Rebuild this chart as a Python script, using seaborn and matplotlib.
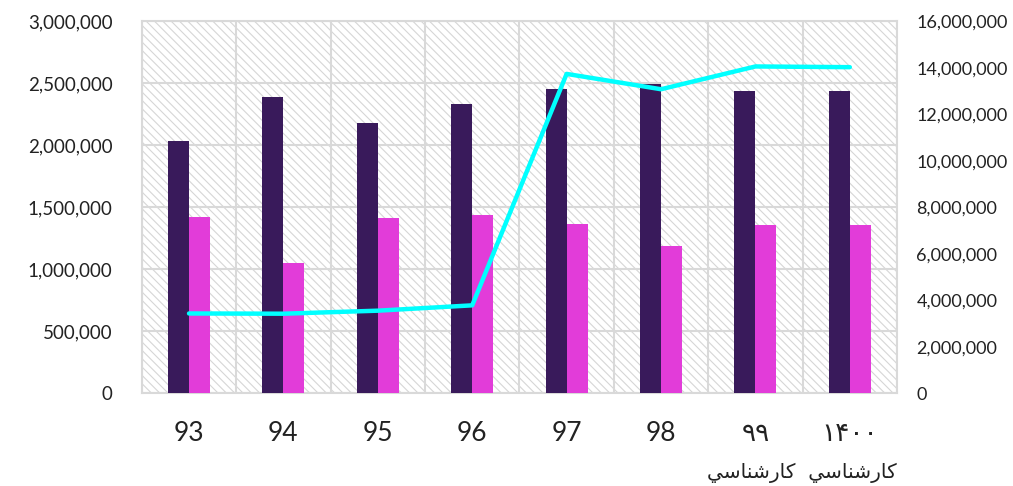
# نمودار میله‌ای دو سری همراه با خط روی محور دوم
import numpy as np
import pandas as pd
import seaborn as sns
import matplotlib.pyplot as plt
from matplotlib.patches import Rectangle
from matplotlib.ticker import FuncFormatter, MultipleLocator, FixedLocator

# داده‌ها (خوانده شده از تصویر)
years = ['93', '94', '95', '96', '97', '98', '\u06f9\u06f9', '\u06f1\u06f4\u06f0\u06f0']
series_a = [2033000, 2389000, 2183000, 2332000, 2458000, 2496000, 2439000, 2439000]
series_b = [1424000, 1050000, 1416000, 1435000, 1365000, 1187000, 1360000, 1360000]
line_values = [3430000, 3420000, 3550000, 3780000, 13740000, 13080000, 14060000, 14030000]

# "کارشناسی" به صورت شکل‌های نمایشی (ترتیب دیداری چپ به راست)
karshenasi = '\ufef2\ufeb3\ufe8e\ufee8\ufeb7\ufead\ufe8e\ufb90'
bottom_text = karshenasi + '  ' + karshenasi

bar_colors = ['#391a5b', '#e23cd9']
line_color = '#00ffff'
grid_color = '#d9d9d9'

df = pd.DataFrame({
    'year': years * 2,
    'value': series_a + series_b,
    'series': ['a'] * len(years) + ['b'] * len(years),
})

sns.set_style('white')
plt.rcParams['font.family'] = ['Lato', 'DejaVu Sans']
plt.rcParams['hatch.linewidth'] = 0.8

fig = plt.figure(figsize=(10.13, 4.86), dpi=100)
ax = fig.add_axes([0.140, 0.191, 0.7455, 0.765])

# پس‌زمینه هاشور خورده
bg = Rectangle((0, 0), 1, 1, transform=ax.transAxes, facecolor='white',
               edgecolor='#d6d6d6', hatch='\\\\\\\\', linewidth=0, zorder=0)
ax.add_patch(bg)

sns.barplot(data=df, x='year', y='value', hue='series', order=years,
            palette=bar_colors, width=0.445, saturation=1, legend=False,
            linewidth=0, ax=ax, zorder=3)

ax.set_xlim(-0.5, len(years) - 0.5)
ax.set_ylim(0, 3000000)
ax.yaxis.set_major_locator(MultipleLocator(500000))
ax.yaxis.set_major_formatter(FuncFormatter(lambda v, p: f'{v:,.0f}'))
ax.xaxis.set_minor_locator(FixedLocator(np.arange(len(years) + 1) - 0.5))
ax.grid(axis='y', which='major', color=grid_color, linewidth=1.5, zorder=1)
ax.grid(axis='x', which='minor', color=grid_color, linewidth=1.5, zorder=1)
ax.set_axisbelow(True)
ax.set_xlabel('')
ax.set_ylabel('')
ax.tick_params(axis='y', length=0, pad=21, labelsize=13.5, colors='#222222')
ax.tick_params(axis='x', which='both', length=0, pad=20, labelsize=19, colors='#222222')
for s in ax.spines.values():
    s.set_color(grid_color)
    s.set_linewidth(1.5)

# محور دوم برای خط
ax2 = ax.twinx()
sns.lineplot(x=np.arange(len(years)), y=line_values, color=line_color,
             linewidth=3.2, ax=ax2, zorder=5, solid_capstyle='round')
ax2.set_ylim(0, 16000000)
ax2.yaxis.set_major_locator(MultipleLocator(2000000))
ax2.yaxis.set_major_formatter(FuncFormatter(lambda v, p: f'{v:,.0f}'))
ax2.tick_params(axis='y', length=0, pad=14, labelsize=13, colors='#222222')
ax2.grid(False)
for s in ax2.spines.values():
    s.set_visible(False)

fig.text(897 / 1013, 1 - 473 / 486, bottom_text, ha='right', va='center',
         fontsize=14.5, color='#222222', family=['DejaVu Sans'])

fig.savefig('out.png', dpi=100)
